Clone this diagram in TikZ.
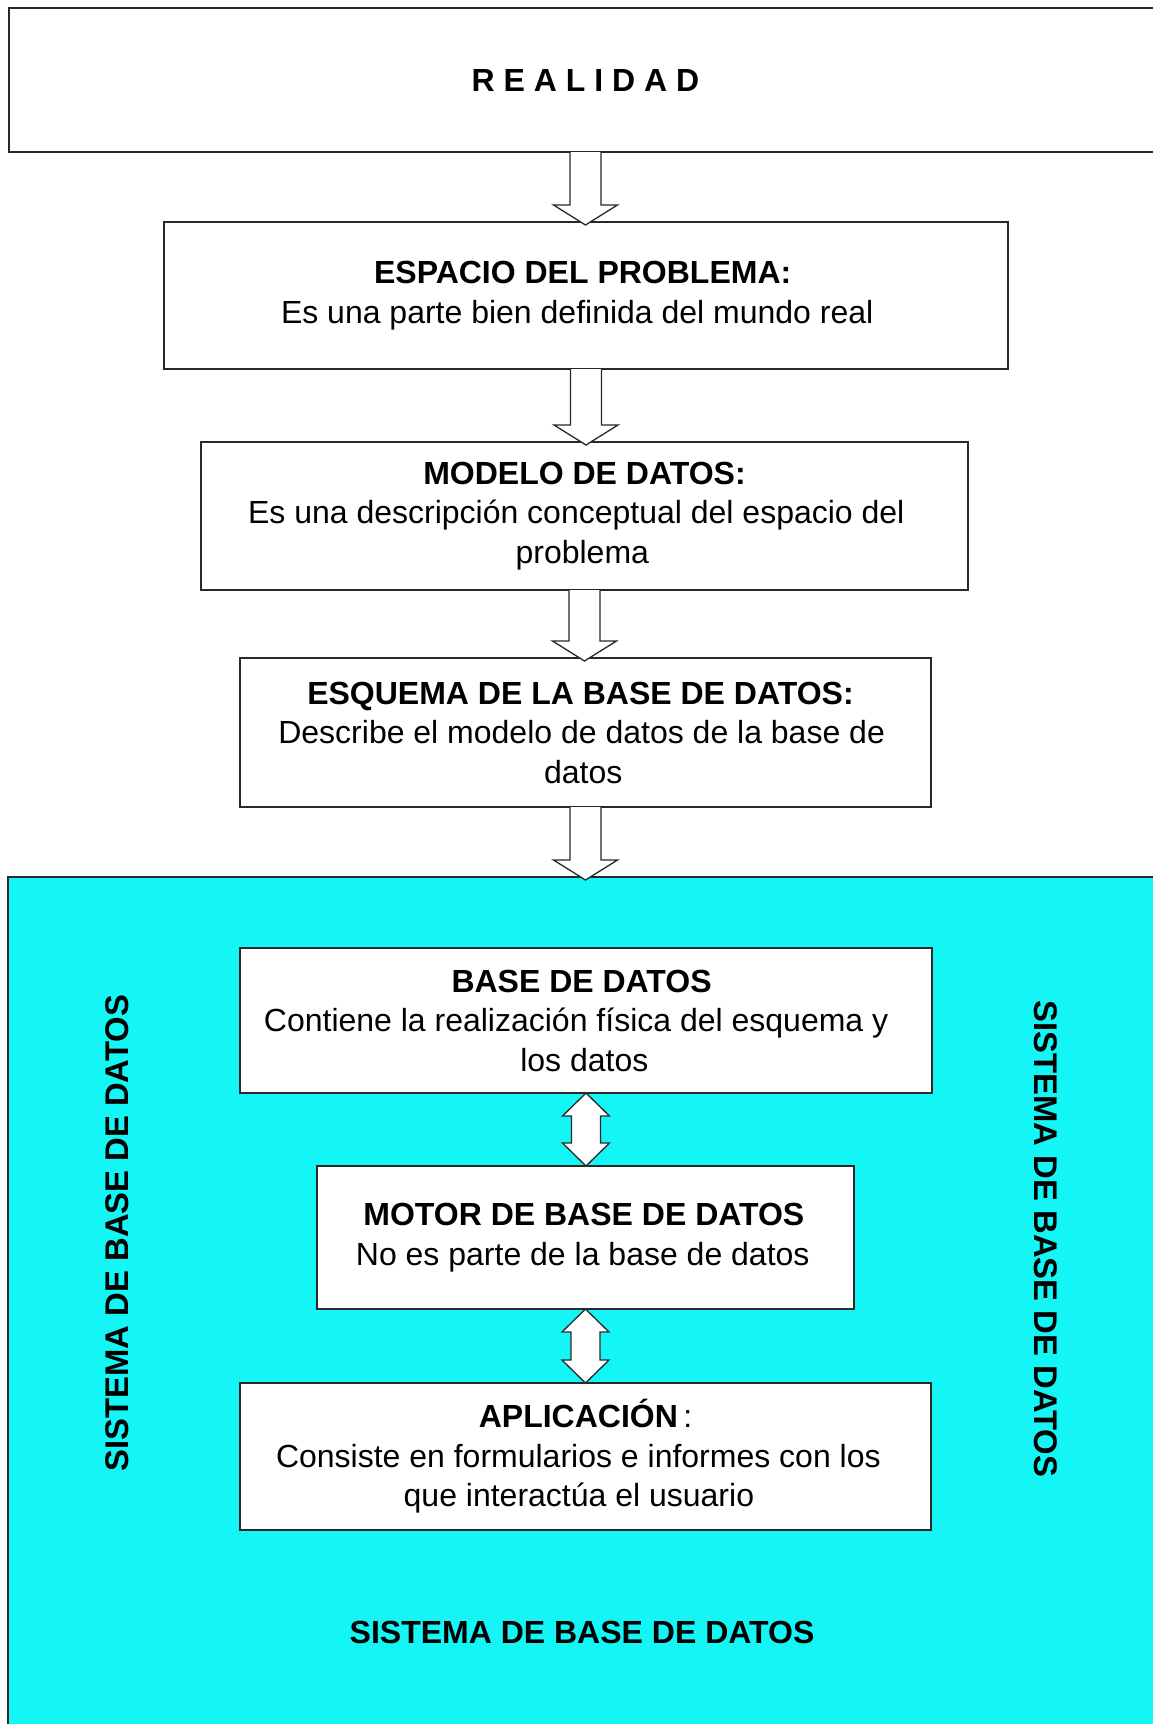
\documentclass[tikz,border=0pt]{standalone}
\usepackage{fontspec}
\setmainfont{Liberation Sans}
\usetikzlibrary{calc}
\definecolor{cyanbg}{RGB}{20,245,245}
\definecolor{edge}{RGB}{40,40,40}
\tikzset{
  box/.style={draw=edge, line width=1.6pt, fill=white, align=center, inner sep=0pt, outer sep=0pt,
    font=\fontsize{32}{39.5}\selectfont},
  blk/.style={draw=edge, line width=1.3pt, fill=white, line join=miter},
  lbl/.style={font=\fontsize{32}{39}\selectfont\bfseries, inner sep=0pt},
  vlbl/.style={font=\fontsize{32.8}{39}\selectfont\bfseries, inner sep=0pt}
}
\newcommand\flowdown[2]{\path[blk] let \p1=(#1.south), \p2=(#2.north) in
  (\x1-15.5,\y1) -- (\x1-15.5,\y2+17) -- (\x1-32,\y2+17) -- (\x1,\y2-3) -- (\x1+32,\y2+17)
  -- (\x1+15.5,\y2+17) -- (\x1+15.5,\y1);}
\newcommand\flowboth[2]{\path[blk] let \p1=(#1.south), \p2=(#2.north) in
  (\x1,\y1) -- (\x1+23.5,\y1-23) -- (\x1+14.5,\y1-23) -- (\x1+14.5,\y2+23) -- (\x1+23.5,\y2+23)
  -- (\x1,\y2) -- (\x1-23.5,\y2+23) -- (\x1-14.5,\y2+23) -- (\x1-14.5,\y1-23) -- (\x1-23.5,\y1-23) -- cycle;}
\newcommand\tr[1]{\kern#1pt}
\begin{document}
\begin{tikzpicture}[x=1pt,y=1pt]
\useasboundingbox (0,0) rectangle (1153,-1724);
% container
\node[box, fill=cyanbg, minimum width=1152pt, minimum height=853pt] (sys) at (584,-1303.5) {};
% top chain
\node[box, minimum width=1153pt, minimum height=144pt] (real) at (585.5,-80) {\textbf{R E A L I D A D}};
\node[box, minimum width=844pt, minimum height=147pt] (esp) at (586,-295.5)
  {\textbf{ESPACIO DEL PROBLEMA:}\tr{6.6}\\Es una parte bien definida del mundo real\tr{17.6}};
\node[box, minimum width=767pt, minimum height=148pt] (mod) at (584.5,-516)
  {\textbf{MODELO DE DATOS:}\\Es una descripción conceptual del espacio del\tr{16.5}\\problema\tr{4.4}};
\node[box, minimum width=691pt, minimum height=149pt] (esq) at (585.5,-732.5)
  {\textbf{ESQUEMA DE LA BASE DE DATOS:}\tr{10}\\Describe el modelo de datos de la base de\tr{7.7}\\datos\tr{4.4}};
% inner chain
\node[box, minimum width=692pt, minimum height=145pt] (bd) at (586,-1020.5)
  {\textbf{BASE DE DATOS}\tr{8.8}\\Contiene la realización física del esquema y\tr{19.8}\\los datos\tr{3.3}};
\node[box, minimum width=537pt, minimum height=143pt] (mot) at (585.5,-1237.5)
  {\textbf{MOTOR DE BASE DE DATOS}\tr{3.3}\\No es parte de la base de datos\tr{5.5}};
\node[box, minimum width=691pt, minimum height=147pt] (apl) at (585.5,-1456.5)
  {\textbf{APLICACIÓN}\,:\\Consiste en formularios e informes con los\tr{14.3}\\que interactúa el usuario\tr{13.2}};
% labels
\node[vlbl, rotate=90] (lv) at (117,-1233) {SISTEMA DE BASE DE DATOS};
\node[vlbl, rotate=-90] (rv) at (1046,-1239) {SISTEMA DE BASE DE DATOS};
\node[lbl] (bt) at (582,-1632) {SISTEMA DE BASE DE DATOS};
% arrows
\flowdown{real}{esp}
\flowdown{esp}{mod}
\flowdown{mod}{esq}
\flowdown{esq}{sys}
\flowboth{bd}{mot}
\flowboth{mot}{apl}
\end{tikzpicture}
\end{document}
